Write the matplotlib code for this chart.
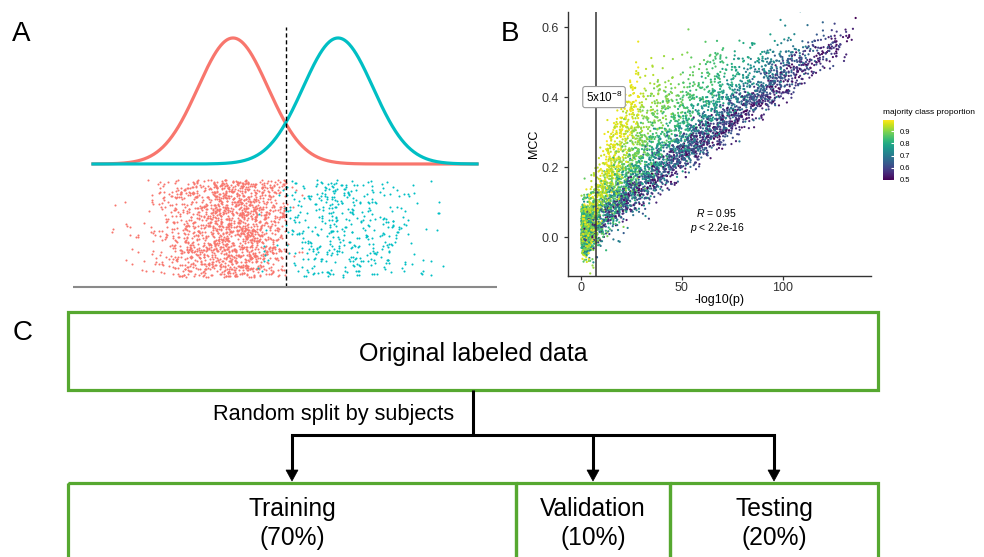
import numpy as np
import matplotlib
matplotlib.use("Agg")
import matplotlib.pyplot as plt
from matplotlib.patches import Rectangle, Polygon

plt.rcParams['font.family'] = ['Liberation Sans', 'DejaVu Sans']
plt.rcParams['mathtext.fontset'] = 'custom'
plt.rcParams['mathtext.rm'] = 'Liberation Sans'
plt.rcParams['mathtext.it'] = 'Liberation Sans:italic'

# ---------------- data ----------------
# Panel A: two class distributions and jittered samples
class_means = [-1.5, 1.5]
class_sd = [1.0, 1.0]
class_colors = ["#F8766D", "#00BFC4"]
sample_sd = [1.1, 1.15]
sample_counts = [1750, 470]
threshold_A = 0.0

# Panel B: MCC vs -log10(p), coloured by majority class proportion
gwas_threshold_p = 5e-8
corr_R = "0.95"
corr_p = "2.2e-16"
b_xticks = [0, 50, 100]
b_yticks = [0.0, 0.2, 0.4, 0.6]
cbar_ticks = [0.5, 0.6, 0.7, 0.8, 0.9]
prop_range = [0.5, 0.99]
n_points_B = 4300
n_cluster_B = 700

# Panel C: data split flowchart
top_label = "Original labeled data"
split_label = "Random split by subjects"
split_names = ["Training", "Validation", "Testing"]
split_pct = [70, 10, 20]

# ---------------- figure ----------------
W, H = 984, 557
fig = plt.figure(figsize=(W / 100, H / 100), dpi=100)


def px_axes(x0, y0, x1, y1, **kw):
    return fig.add_axes([x0 / W, 1 - y1 / H, (x1 - x0) / W, (y1 - y0) / H], **kw)


rng = np.random.default_rng(11)

# ---------- overlay (panel C + labels) ----------
axC = fig.add_axes([0, 0, 1, 1], zorder=0)
axC.set_xlim(0, W)
axC.set_ylim(H, 0)
axC.axis('off')
axC.patch.set_alpha(0)

green = "#56A830"
box_l, box_r = 68, 878
top_y0, top_y1 = 312, 390
split_edges = [68, 516, 670, 878]
bot_y0 = 483
bar_y = 435
lw_box = 2.3

axC.add_patch(Rectangle((box_l, top_y0), box_r - box_l, top_y1 - top_y0,
                        fill=False, ec=green, lw=lw_box))
axC.text((box_l + box_r) / 2, 361, top_label, ha='center', va='baseline', fontsize=18)

for i, (name, pct) in enumerate(zip(split_names, split_pct)):
    x0, x1 = split_edges[i], split_edges[i + 1]
    axC.add_patch(Rectangle((x0, bot_y0), x1 - x0, 200, fill=False, ec=green, lw=lw_box))
    cx = (x0 + x1) / 2
    axC.text(cx, 516, name, ha='center', va='baseline', fontsize=17.7)
    axC.text(cx, 545, f"({pct}%)", ha='center', va='baseline', fontsize=17.7)

centers = [(split_edges[i] + split_edges[i + 1]) / 2 for i in range(len(split_names))]
mid_x = 473
axC.plot([mid_x, mid_x], [top_y1, bar_y], color='black', lw=2.2, solid_capstyle='butt')
axC.plot([centers[0], centers[-1]], [bar_y, bar_y], color='black', lw=2.2, solid_capstyle='projecting')
for cx in centers:
    axC.plot([cx, cx], [bar_y, 471], color='black', lw=2.2, solid_capstyle='butt')
    axC.add_patch(Polygon([[cx - 6, 470], [cx + 6, 470], [cx, 481]], closed=True,
                          fc='black', ec='black', lw=0.5))
axC.text(333.5, 420, split_label, ha='center', va='baseline', fontsize=15.7)

axC.text(12, 41, "A", fontsize=20, ha='left', va='baseline')
axC.text(501, 41, "B", fontsize=20, ha='left', va='baseline')
axC.text(13, 340, "C", fontsize=20, ha='left', va='baseline')

# ---------- panel A ----------
axA = px_axes(73, 25, 497, 290, zorder=1)
axA.patch.set_alpha(0)
axA.set_xlim(-6.07, 6.04)
axA.set_ylim(-1.0, 1.103)
axA.axis('off')

xs = np.linspace(-5.5, 5.47, 500)
for mu, sd, col in zip(class_means, class_sd, class_colors):
    axA.plot(xs, np.exp(-0.5 * ((xs - mu) / sd) ** 2), color=col, lw=2.3)

pts = []
for k, (mu, sd, n, col) in enumerate(zip(class_means, sample_sd, sample_counts, class_colors)):
    x = rng.normal(mu, sd, n)
    r = rng.random(n)
    if k == 0:
        keep = (x < threshold_A) | ((x < 0.5) & (r < 0.12))
        keep &= x > -5.0
    else:
        keep = (x > threshold_A) | ((x > -0.8) & (r < 0.3))
        keep &= x < 4.6
    x = x[keep]
    y = rng.uniform(-0.897, -0.127, x.size)
    pts.append((x, y, col))
for x, y, col in pts:
    axA.scatter(x, y, s=2.2, color=col, lw=0)

axA.plot([threshold_A, threshold_A], [-0.976, 1.087], color='black', lw=1,
         ls=(0, (3, 2)))
axA.plot([-6.07, 6.04], [-0.976, -0.976], color='#8a8a8a', lw=1.5)

# ---------- panel B ----------
axB = px_axes(567.7, 12, 870.7, 276, zorder=1)
axB.set_xlim(-6.76, 143.8)
axB.set_ylim(-0.111, 0.643)

u = rng.uniform(prop_range[0], prop_range[1], n_points_B)
t = (u - 0.5) / 0.49
ue = np.minimum(u, 0.95)
slope = 0.00548 * (0.25 / (ue * (1 - ue))) ** 0.7
m_max = 0.585 - 0.16 * t ** 2
xmax = (m_max / slope) ** (1 / 0.95)
xb = xmax * rng.beta(1.3, 1.4, n_points_B)
mb = slope * xb ** 0.95 + rng.normal(0, 1, n_points_B) * (0.024 + 0.03 * t)

u2 = rng.uniform(0.75, prop_range[1], n_cluster_B)
x2 = np.abs(rng.normal(0, 3.5, n_cluster_B))
m2 = rng.normal(0.025, 0.035, n_cluster_B)

U = np.concatenate([u, u2])
X = np.concatenate([xb, x2])
M = np.concatenate([mb, m2])
order = rng.permutation(U.size)
sc = axB.scatter(X[order], M[order], c=U[order], cmap='viridis', vmin=prop_range[0],
                 vmax=prop_range[1], s=2.5, lw=0)

thr = -np.log10(gwas_threshold_p)
axB.axvline(thr, color='#333333', lw=1.1)
axB.text(thr + 4, 0.4, r"5x10$^{-8}$", ha='center', va='center', fontsize=8.5,
         bbox=dict(boxstyle='round,pad=0.25,rounding_size=0.2', fc='white', ec='#999999', lw=0.8))
axB.text(67.4, 0.069, r"$\mathit{R}$ = " + corr_R, ha='center', va='center', fontsize=7.5)
axB.text(67.4, 0.026, r"$\mathit{p}$ < " + corr_p, ha='center', va='center', fontsize=7.5)

for side in ['top', 'right']:
    axB.spines[side].set_visible(False)
for side in ['left', 'bottom']:
    axB.spines[side].set_color('#333333')
    axB.spines[side].set_linewidth(1.0)
axB.set_xticks(b_xticks)
axB.set_yticks(b_yticks)
axB.set_yticklabels([f"{v:.1f}" for v in b_yticks])
axB.tick_params(labelsize=9, colors='#333333', length=3, width=0.9)
axB.tick_params(axis='x', pad=1.5)
axB.set_xlabel("-log10(p)", fontsize=9, labelpad=0)
axB.set_ylabel("MCC", fontsize=9, labelpad=1)

cax = px_axes(883, 120, 894, 180, zorder=1)
cb = fig.colorbar(sc, cax=cax, ticks=cbar_ticks)
cb.outline.set_visible(False)
cax.tick_params(labelsize=5.5, length=2, color='white', direction='in', pad=4)
fig.text(883 / W, 1 - 113 / H, "majority class proportion", fontsize=6,
         ha='left', va='center')

fig.savefig("out.png", dpi=100)
